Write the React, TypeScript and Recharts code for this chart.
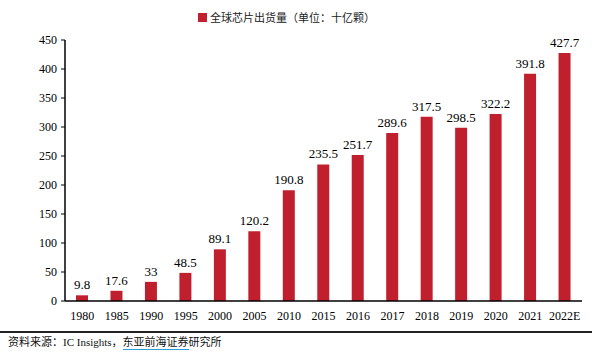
import { BarChart, Bar, XAxis, YAxis, LabelList, Legend } from 'recharts';

const years = ['1980', '1985', '1990', '1995', '2000', '2005', '2010', '2015', '2016', '2017', '2018', '2019', '2020', '2021', '2022E'];
const shipments = [9.8, 17.6, 33, 48.5, 89.1, 120.2, 190.8, 235.5, 251.7, 289.6, 317.5, 298.5, 322.2, 391.8, 427.7];
const yTicks = [0, 50, 100, 150, 200, 250, 300, 350, 400, 450];

const data = years.map((year, i) => ({ year, value: shipments[i] }));

const RED = '#c0202e';
const SERIF = '"Liberation Serif", "DejaVu Serif", serif';
const CJK = '"Noto Sans CJK SC", sans-serif';

export default function App() {
  return (
    <div style={{ position: 'absolute', left: 0, top: 0, width: 592, height: 354, background: '#fff', overflow: 'hidden' }}>
      <BarChart width={592} height={354} data={data} margin={{ top: 40, right: 10, left: 0, bottom: 23 }}>
        <Legend
          verticalAlign="top"
          align="center"
          content={() => (
            <div style={{ position: 'absolute', top: 9, left: 198, display: 'flex', alignItems: 'center', fontFamily: CJK, fontSize: 11, color: '#222' }}>
              <span style={{ display: 'inline-block', width: 9, height: 9, background: RED, marginRight: 3 }} />
              全球芯片出货量（单位：十亿颗）
            </div>
          )}
          wrapperStyle={{ top: 0, left: 0 }}
        />
        <XAxis
          dataKey="year"
          axisLine={{ stroke: '#000', strokeWidth: 1.5 }}
          tickLine={false}
          height={30}
          interval={0}
          tick={{ fill: '#000', fontSize: 12, fontFamily: SERIF }}
          tickMargin={4}
        />
        <YAxis
          width={65}
          domain={[0, 450]}
          ticks={yTicks}
          interval={0}
          axisLine={{ stroke: '#000', strokeWidth: 1.5 }}
          tickLine={{ stroke: '#000' }}
          tickSize={4}
          tick={{ fill: '#000', fontSize: 12, fontFamily: SERIF }}
          tickMargin={4}
        />
        <Bar dataKey="value" fill={RED} barSize={12} isAnimationActive={false}>
          <LabelList dataKey="value" position="top" offset={6} style={{ fill: '#000', fontSize: 13, fontFamily: SERIF }} />
        </Bar>
      </BarChart>
      <div style={{ position: 'absolute', left: 0, top: 331, width: 592, height: 2, background: '#222' }} />
      <div style={{ position: 'absolute', left: 8, top: 333, fontSize: 11, color: '#111', fontFamily: CJK, whiteSpace: 'nowrap' }}>
        资料来源：<span style={{ fontFamily: SERIF }}>IC Insights</span>，
        <span style={{ borderBottom: '1px solid #2a9fd6' }}>东亚前海证券</span>研究所
      </div>
    </div>
  );
}
